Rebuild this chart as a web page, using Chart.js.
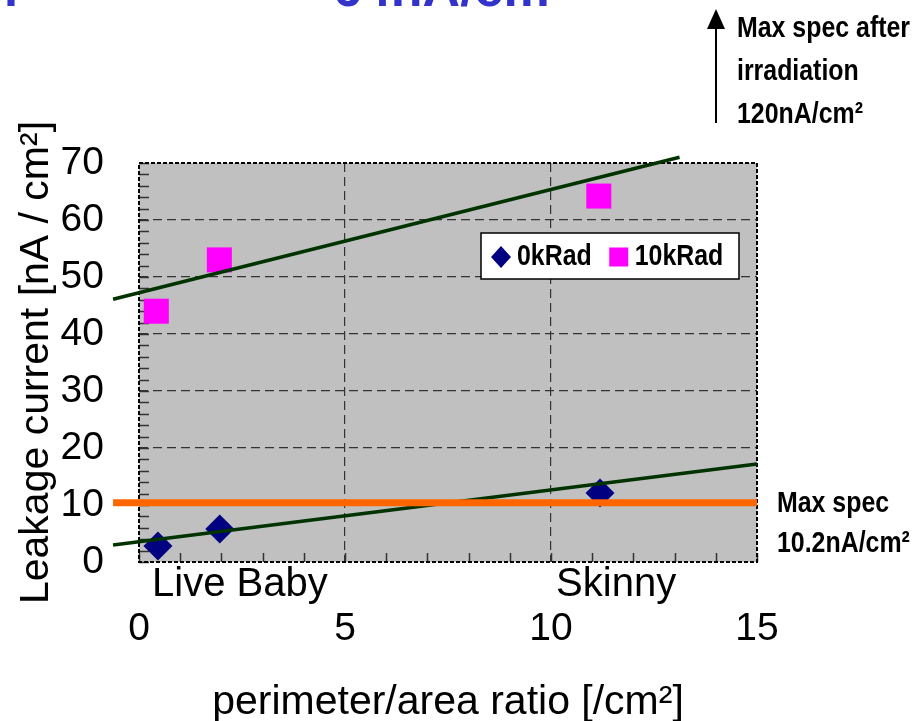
<!DOCTYPE html>
<html>
<head>
<meta charset="utf-8">
<script src="https://cdn.jsdelivr.net/npm/chart.js@4.4.1/dist/chart.umd.min.js"></script>
<style>
  html, body { margin: 0; padding: 0; background: #fff; }
  #wrap { width: 917px; height: 721px; }
</style>
</head>
<body>
<div id="wrap"><canvas id="leakChart" width="917" height="721"></canvas></div>
<script>
// leakage current vs perimeter/area ratio
const seriesNames = ['0kRad', '10kRad']
const ratio0k = [0.46, 1.96, 11.19]
const leak0k = [2.8, 5.8, 12.1]
const ratio10k = [0.42, 1.95, 11.16]
const leak10k = [44.0, 53.0, 64.2]

// fitted lines, end points as drawn
const fit0kX = [-0.63, 15]
const fit0kY = [3.0, 17.2]
const fit10kX = [-0.63, 13.12]
const fit10kY = [46.1, 71.0]

// max spec line (10.2nA/cm2)
const specX = [-0.63, 15]
const specY = [10.4, 10.4]

const xTicks = [0, 5, 10, 15]
const yTicks = [0, 10, 20, 30, 40, 50, 60, 70]
const sampleNames = ['Live Baby', 'Skinny']
const samplePos = [2.45, 11.58]

const sans = "'Liberation Sans', Arial, sans-serif"
const squeeze = 0.83   // no narrow font installed, so squash bold sans

Chart.defaults.font.family = sans
Chart.defaults.color = '#000'

const toPts = (xs, ys) => xs.map((x, i) => ({ x: x, y: ys[i] }))

function narrowText(ctx, text, x, y) {
  ctx.save()
  ctx.translate(x, y)
  ctx.scale(squeeze, 1)
  ctx.fillText(text, 0, 0)
  ctx.restore()
  return ctx.measureText(text).width * squeeze
}

// grey plot area, dashed frame, small inside ticks
const plotFrame = {
  id: 'plotFrame',
  beforeDraw(chart) {
    const a = chart.chartArea
    const ctx = chart.ctx
    ctx.save()
    ctx.fillStyle = '#C0C0C0'
    ctx.fillRect(a.left, a.top, a.right - a.left, a.bottom - a.top)
    ctx.restore()
  },
  beforeDatasetsDraw(chart) {
    const a = chart.chartArea
    const ctx = chart.ctx
    const xs = chart.scales.x
    const ys = chart.scales.y
    ctx.save()
    ctx.strokeStyle = '#333'
    ctx.lineWidth = 1.5
    ctx.beginPath()
    for (let v = ys.min; v <= ys.max; v += 2) {
      const py = Math.round(ys.getPixelForValue(v)) + 0.5
      ctx.moveTo(a.left, py)
      ctx.lineTo(a.left + 10, py)
    }
    for (let v = xs.min; v <= xs.max; v += 1) {
      const px = Math.round(xs.getPixelForValue(v)) + 0.5
      ctx.moveTo(px, a.bottom)
      ctx.lineTo(px, a.bottom - 9)
    }
    ctx.stroke()
    ctx.strokeStyle = '#000'
    ctx.lineWidth = 2
    ctx.setLineDash([4, 2])
    ctx.strokeRect(a.left, a.top, a.right - a.left, a.bottom - a.top)
    ctx.restore()
  }
}

// legend box, notes, arrow, sample names
const notes = {
  id: 'notes',
  afterDraw(chart) {
    const a = chart.chartArea
    const ctx = chart.ctx
    const xs = chart.scales.x
    ctx.save()

    // cut-off heading at the very top
    ctx.fillStyle = '#3333CC'
    ctx.font = 'bold 52px ' + sans
    ctx.textBaseline = 'alphabetic'
    ctx.fillText('n', -14, 6)
    ctx.fillText('64nA/cm', 333, 6)

    // sample names under the points
    ctx.fillStyle = '#000'
    ctx.font = '40px ' + sans
    ctx.textAlign = 'center'
    sampleNames.forEach((name, i) => {
      ctx.fillText(name, xs.getPixelForValue(samplePos[i]), 596)
    })

    // legend
    const markers = chart.data.datasets.filter(d => seriesNames.includes(d.label))
    ctx.font = 'bold 30px ' + sans
    ctx.textAlign = 'left'
    ctx.textBaseline = 'middle'
    const boxR = a.right - 18
    const boxT = a.top + 70
    const boxW = 258
    const boxH = 46
    const boxL = boxR - boxW
    ctx.fillStyle = '#fff'
    ctx.fillRect(boxL, boxT, boxW, boxH)
    ctx.strokeStyle = '#000'
    ctx.lineWidth = 1.5
    ctx.strokeRect(boxL, boxT, boxW, boxH)
    let cx = boxL + 20
    const cy = boxT + boxH / 2 + 1
    markers.forEach(d => {
      ctx.fillStyle = d.backgroundColor
      ctx.beginPath()
      if (d.pointStyle === 'rectRot') {
        ctx.moveTo(cx, cy - 11)
        ctx.lineTo(cx + 10, cy)
        ctx.lineTo(cx, cy + 11)
        ctx.lineTo(cx - 10, cy)
      } else {
        ctx.rect(cx - 9.5, cy - 9.5, 19, 19)
      }
      ctx.fill()
      ctx.fillStyle = '#000'
      const w = narrowText(ctx, d.label, cx + 16, cy)
      cx += 16 + w + 27
    })

    // side notes
    ctx.textBaseline = 'alphabetic'
    ctx.font = 'bold 30px ' + sans
    narrowText(ctx, 'Max spec after', 737, 37)
    narrowText(ctx, 'irradiation', 737, 80)
    narrowText(ctx, '120nA/cm\u00B2', 737, 123)
    narrowText(ctx, 'Max spec', 777, 512)
    narrowText(ctx, '10.2nA/cm\u00B2', 777, 552)

    // upward arrow
    ctx.strokeStyle = '#000'
    ctx.lineWidth = 2
    ctx.beginPath()
    ctx.moveTo(716, 123)
    ctx.lineTo(716, 27)
    ctx.stroke()
    ctx.fillStyle = '#000'
    ctx.beginPath()
    ctx.moveTo(716, 9)
    ctx.lineTo(707, 29)
    ctx.lineTo(725, 29)
    ctx.closePath()
    ctx.fill()

    ctx.restore()
  }
}

const chartEl = document.getElementById('leakChart')
const leakChart = new Chart(chartEl, {
  type: 'scatter',
  data: {
    datasets: [
      {
        label: 'spec',
        type: 'line',
        data: toPts(specX, specY),
        borderColor: '#FF6600',
        borderWidth: 7,
        pointRadius: 0,
        clip: false,
        order: 0
      },
      {
        label: 'fit 0kRad',
        type: 'line',
        data: toPts(fit0kX, fit0kY),
        borderColor: '#003300',
        borderWidth: 3.5,
        pointRadius: 0,
        clip: false,
        order: 1
      },
      {
        label: 'fit 10kRad',
        type: 'line',
        data: toPts(fit10kX, fit10kY),
        borderColor: '#003300',
        borderWidth: 3.5,
        pointRadius: 0,
        clip: false,
        order: 1
      },
      {
        label: seriesNames[0],
        data: toPts(ratio0k, leak0k),
        pointStyle: 'rectRot',
        pointRadius: 14.5,
        backgroundColor: '#000080',
        borderColor: '#000080',
        borderWidth: 0,
        clip: false,
        order: 2
      },
      {
        label: seriesNames[1],
        data: toPts(ratio10k, leak10k),
        pointStyle: 'rect',
        pointRadius: 17.7,
        backgroundColor: '#FF00FF',
        borderColor: '#FF00FF',
        borderWidth: 0,
        clip: false,
        order: 2
      }
    ]
  },
  options: {
    responsive: false,
    animation: false,
    events: [],
    layout: { padding: { top: 163, right: 160, left: 0, bottom: 0 } },
    plugins: {
      legend: { display: false },
      tooltip: { enabled: false }
    },
    scales: {
      x: {
        type: 'linear',
        min: 0,
        max: 15,
        afterBuildTicks: s => { s.ticks = xTicks.map(v => ({ value: v })) },
        afterFit: s => { s.height = 159 },
        ticks: { font: { size: 39 }, padding: 44, color: '#000' },
        grid: {
          drawTicks: false,
          color: c => (c.tick && (c.tick.value === 0 || c.tick.value === 15)) ? 'rgba(0,0,0,0)' : '#333',
          lineWidth: 1.2
        },
        border: { display: false, dash: [9, 5] },
        title: {
          display: true,
          text: 'perimeter/area ratio [/cm\u00B2]',
          font: { size: 41, lineHeight: 1.0 },
          padding: { top: 0, bottom: -2 },
          color: '#000'
        }
      },
      y: {
        type: 'linear',
        min: 0,
        max: 70,
        afterBuildTicks: s => { s.ticks = yTicks.map(v => ({ value: v })) },
        afterFit: s => { s.width = 139 },
        ticks: { font: { size: 39 }, padding: 35, color: '#000' },
        grid: {
          drawTicks: false,
          color: c => (c.tick && (c.tick.value === 0 || c.tick.value === 70)) ? 'rgba(0,0,0,0)' : '#333',
          lineWidth: 1.2
        },
        border: { display: false, dash: [9, 5] },
        title: {
          display: true,
          text: 'Leakage current [nA / cm\u00B2]',
          font: { size: 41, lineHeight: 1.2 },
          padding: { top: 12, bottom: 0 },
          color: '#000'
        }
      }
    }
  },
  plugins: [plotFrame, notes]
})
</script>
</body>
</html>
